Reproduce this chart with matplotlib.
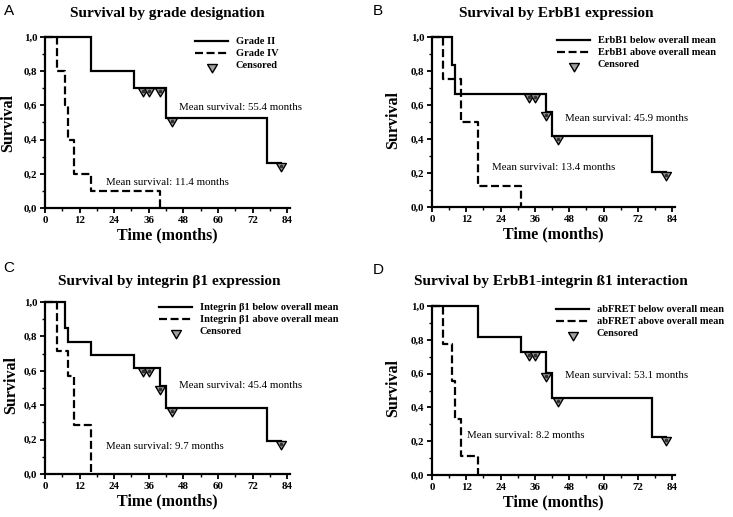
import matplotlib
matplotlib.use("Agg")
import matplotlib.pyplot as plt
from matplotlib.lines import Line2D
from matplotlib.path import Path
from matplotlib.transforms import offset_copy
from matplotlib.ticker import MultipleLocator, FuncFormatter

W, H = 733, 517

# ---------------- data ----------------
titles = ["Survival by grade designation", "Survival by ErbB1 expression",
          "Survival by integrin \u03b21 expression", "Survival by ErbB1-integrin \u00df1 interaction"]
panel_letters = ["A", "B", "C", "D"]
legend_solid = ["Grade II", "ErbB1 below overall mean",
                "Integrin \u03b21 below overall mean", "abFRET below overall mean"]
legend_dashed = ["Grade IV", "ErbB1 above overall mean",
                 "Integrin \u03b21 above overall mean", "abFRET above overall mean"]

solid_t = [[0, 16, 31, 42, 77, 82],
           [0, 7, 8, 40, 42, 77, 82],
           [0, 7, 8, 16, 31, 40, 42, 77, 82],
           [0, 16, 31, 40, 42, 77, 82]]
solid_s = [[1.0, 0.8, 0.7, 0.525, 0.2625, 0.2625],
           [1.0, 0.833, 0.667, 0.556, 0.417, 0.208, 0.208],
           [1.0, 0.846, 0.769, 0.692, 0.615, 0.513, 0.385, 0.192, 0.192],
           [1.0, 0.818, 0.727, 0.606, 0.455, 0.227, 0.227]]
dashed_t = [[0, 4, 7, 8, 10, 16, 40],
            [0, 4, 10, 16, 31],
            [0, 4, 8, 10, 16],
            [0, 4, 7, 8, 10, 16]]
dashed_s = [[1.0, 0.8, 0.6, 0.4, 0.2, 0.1, 0.0],
            [1.0, 0.75, 0.5, 0.125, 0.0],
            [1.0, 0.714, 0.571, 0.286, 0.0],
            [1.0, 0.778, 0.556, 0.333, 0.111, 0.0]]
cens_t = [[34, 36, 40, 44, 82],
          [34, 36, 40, 44, 82],
          [34, 36, 40, 44, 82],
          [34, 36, 40, 44, 82]]
cens_s = [[0.7, 0.7, 0.7, 0.525, 0.2625],
          [0.667, 0.667, 0.556, 0.417, 0.208],
          [0.615, 0.615, 0.513, 0.385, 0.192],
          [0.727, 0.727, 0.606, 0.455, 0.227]]
mean_solid = ["Mean survival: 55.4 months", "Mean survival: 45.9 months",
              "Mean survival: 45.4 months", "Mean survival: 53.1 months"]
mean_dashed = ["Mean survival: 11.4 months", "Mean survival: 13.4 months",
               "Mean survival: 9.7 months", "Mean survival: 8.2 months"]
mean_solid_pos = [(46.5, 0.585), (46.5, 0.518), (46.5, 0.512), (46.5, 0.586)]
mean_dashed_pos = [(21.2, 0.152), (21.0, 0.235), (21.2, 0.157), (12.2, 0.231)]

# ---------------- layout (pixels) ----------------
ax_px = [(45, 290, 37, 208), (432, 675, 37, 207), (45, 290, 302, 474), (432, 675, 306, 475)]
title_px = [(167, 13), (556, 13), (169, 281), (551, 281)]
letter_px = [(4, 4), (373, 4), (3, 261), (373, 263)]
legend_px = [(195, 37), (557, 36), (159, 303), (556, 305)]
ylabel_px = [(16, 123), (401, 120), (19, 385), (401, 388)]

SERIF = "Liberation Serif"
tri = Path([(-1, 0), (1, 0), (0, -1.7), (-1, 0)],
           [Path.MOVETO, Path.LINETO, Path.LINETO, Path.CLOSEPOLY])
MS = 12

fig = plt.figure(figsize=(W / 100, H / 100), dpi=100)

for i in range(4):
    l, r, t, b = ax_px[i]
    ax = fig.add_axes([l / W, 1 - b / H, (r - l) / W, (b - t) / H])
    ax.set_xlim(0, 85)
    ax.set_ylim(0, 1.0)
    for s in ["top", "right"]:
        ax.spines[s].set_visible(False)
    for s in ["left", "bottom"]:
        ax.spines[s].set_linewidth(1.6)
    ax.xaxis.set_major_locator(MultipleLocator(12))
    ax.xaxis.set_minor_locator(MultipleLocator(6))
    ax.yaxis.set_major_locator(MultipleLocator(0.2))
    ax.yaxis.set_minor_locator(MultipleLocator(0.1))
    ax.yaxis.set_major_formatter(FuncFormatter(lambda v, p: f"{v:.1f}".replace(".", ",")))
    ax.tick_params(which="major", direction="out", length=3.5, width=1.3, pad=2)
    ax.tick_params(which="minor", direction="out", length=2.2, width=1.0)
    for lab in ax.get_xticklabels() + ax.get_yticklabels():
        lab.set_fontfamily(SERIF)
        lab.set_fontweight("bold")
        lab.set_fontsize(7.8)

    ax.step(solid_t[i], solid_s[i], where="post", color="black", lw=1.6, clip_on=False,
            solid_joinstyle="miter")
    ax.step(dashed_t[i], dashed_s[i], where="post", color="black", lw=1.6, clip_on=False,
            dashes=(3.6, 1.6))
    ax.plot(cens_t[i], cens_s[i], linestyle="none", marker=tri, markersize=MS,
            markerfacecolor="#a0a0a0", markeredgecolor="black", markeredgewidth=1.0,
            clip_on=False, zorder=5)
    ax.plot(cens_t[i], cens_s[i], linestyle="none", marker="o", markersize=1.6,
            color="#303030", clip_on=False, zorder=6,
            transform=offset_copy(ax.transData, fig=fig, x=0, y=-3.0, units="dots"))

    ax.text(*mean_solid_pos[i], mean_solid[i], fontfamily=SERIF, fontsize=7.8,
            va="center", ha="left")
    ax.text(*mean_dashed_pos[i], mean_dashed[i], fontfamily=SERIF, fontsize=7.8,
            va="center", ha="left")

    ax.set_xlabel("Time (months)", fontfamily=SERIF, fontweight="bold", fontsize=11.5,
                  labelpad=2)
    ax.set_ylabel("Survival", fontfamily=SERIF, fontweight="bold", fontsize=11.5)
    yx, yy = ylabel_px[i]
    ax.yaxis.set_label_coords(yx / W, 1 - yy / H, transform=fig.transFigure)

    tx, ty = title_px[i]
    fig.text(tx / W, 1 - ty / H, titles[i], fontfamily=SERIF, fontweight="bold",
             fontsize=11, ha="center", va="center")
    lx, ly = letter_px[i]
    fig.text(lx / W, 1 - ly / H, panel_letters[i], fontfamily="Liberation Sans",
             fontsize=11, ha="left", va="top")

    handles = [Line2D([], [], color="black", lw=1.6),
               Line2D([], [], color="black", lw=1.6, dashes=(3.6, 1.6)),
               Line2D([], [], linestyle="none", marker=tri, markersize=MS,
                      markerfacecolor="#a0a0a0", markeredgecolor="black",
                      markeredgewidth=1.0)]
    gx, gy = legend_px[i]
    ax.legend(handles, [legend_solid[i], legend_dashed[i], "Censored"],
              loc="upper left", bbox_to_anchor=(gx / W, 1 - gy / H),
              bbox_transform=fig.transFigure, frameon=False, borderpad=0,
              borderaxespad=0, handlelength=3.2, handletextpad=0.7,
              labelspacing=0.25,
              prop={"family": SERIF, "weight": "bold", "size": 7.5})

fig.savefig("out.png", dpi=100)
